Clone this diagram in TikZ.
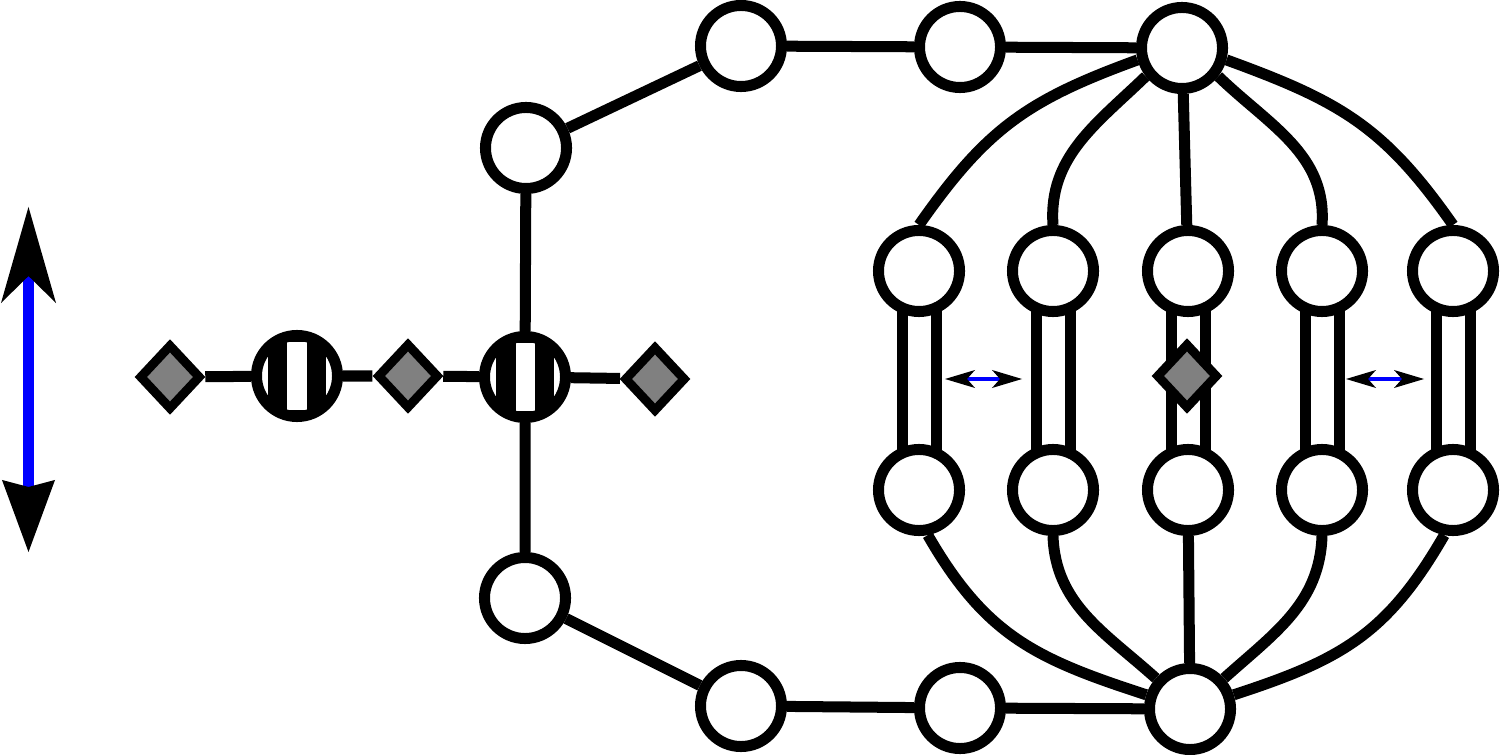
\documentclass[tikz,border=0pt]{standalone}
\usepackage{tikz}
\usetikzlibrary{arrows.meta,shapes,backgrounds}
\begin{document}
\begin{tikzpicture}[x=0.01cm,y=0.01cm]
                    \tikzstyle{every node}+=[inner sep=0pt]
                    \tikzstyle{vertex}=[circle, draw=black, fill=white, line width=0.11cm, minimum size=0.81cm]
                    \tikzstyle{striped}=[vertex, path picture={
                        \fill [black] ([xshift=-0.285cm,yshift=-0.5cm]path picture bounding box.center) rectangle ([xshift=0.285cm,yshift=0.5cm]path picture bounding box.center);
                        \fill [white] ([xshift=-0.095cm,yshift=-0.34cm]path picture bounding box.center) rectangle ([xshift=0.095cm,yshift=0.34cm]path picture bounding box.center);}]
                    \tikzstyle{port}=[diamond, draw=black, fill=gray, line width=0.09cm, minimum width=0.62cm, minimum height=0.66cm]
                    \tikzstyle{edge}=[black, line width=0.11cm]
                    \tikzstyle{rung}=[black, line width=0.11cm, double=white, double distance=0.23cm]
                    \tikzstyle{twoway}=[blue, line width=0.04cm, {Stealth[length=0.30cm,width=0.18cm,inset=0.08cm,line width=0pt,color=black]}-{Stealth[length=0.30cm,width=0.18cm,inset=0.08cm,line width=0pt,color=black]}]
                    \tikzstyle{bigarrow}=[blue, line width=0.11cm, {Stealth[length=0.96cm,width=0.55cm,inset=0.27cm,line width=0pt,color=black]}-{Stealth[length=0.72cm,width=0.53cm,inset=0.07cm,line width=0pt,color=black]}]
                    \useasboundingbox (0,0) rectangle (1500,-755);
                    % left chain
                    \node [port] (d1) at (170,-377) {};
                    \node [striped] (s1) at (297,-376) {};
                    \node [port] (d2) at (408,-376) {};
                    \node [striped] (s2) at (525,-377) {};
                    \node [port] (d3) at (655,-379) {};
                    \node [vertex] (c1) at (526,-148) {};
                    \node [vertex] (c2) at (525,-598) {};
                    % top and bottom rows
                    \node [vertex] (t1) at (741,-46) {};
                    \node [vertex] (t2) at (960,-47) {};
                    \node [vertex] (ht) at (1182,-48) {};
                    \node [vertex] (b1) at (741,-706) {};
                    \node [vertex] (b2) at (960,-708) {};
                    \node [vertex] (hb) at (1190,-709) {};
                    % columns
                    \node [vertex] (u1) at (919,-271) {};
                    \node [vertex] (u2) at (1053,-271) {};
                    \node [vertex] (u3) at (1188,-271) {};
                    \node [vertex] (u4) at (1322,-271) {};
                    \node [vertex] (u5) at (1453,-271) {};
                    \node [vertex] (w1) at (919,-490) {};
                    \node [vertex] (w2) at (1053,-490) {};
                    \node [vertex] (w3) at (1188,-490) {};
                    \node [vertex] (w4) at (1322,-490) {};
                    \node [vertex] (w5) at (1453,-490) {};
                    \begin{pgfonlayer}{background}
                    \draw [rung] (u1.center) -- (w1.center);
                    \draw [rung] (u2.center) -- (w2.center);
                    \draw [rung] (u3.center) -- (w3.center);
                    \draw [rung] (u4.center) -- (w4.center);
                    \draw [rung] (u5.center) -- (w5.center);
                    \end{pgfonlayer}
                    \node [port] (d4) at (1187,-376) {};
                    % straight edges
                    \draw [edge] (d1) -- (s1) -- (d2) -- (s2) -- (d3);
                    \draw [edge] (c1) -- (s2) -- (c2);
                    \draw [edge] (c1) -- (t1) -- (t2) -- (ht);
                    \draw [edge] (c2) -- (b1) -- (b2) -- (hb);
                    % fan from the top
                    \draw [edge] (ht.195) to [out=200,in=55,looseness=1.1] (u1.north);
                    \draw [edge] (ht.218) to [out=224,in=94] (u2.north);
                    \draw [edge] (ht) -- (u3);
                    \draw [edge] (ht.322) to [out=316,in=86] (u4.north);
                    \draw [edge] (ht.345) to [out=340,in=125,looseness=1.1] (u5.north);
                    % fan to the bottom
                    \draw [edge] (w1.281) to [out=300,in=162,looseness=1.1] (hb);
                    \draw [edge] (w2.south) to [out=272,in=138] (hb);
                    \draw [edge] (w3) -- (hb);
                    \draw [edge] (w4.south) to [out=268,in=42] (hb);
                    \draw [edge] (w5.259) to [out=240,in=18,looseness=1.1] (hb);
                    % arrows
                    \coordinate (p1) at (945,-379);
                    \coordinate (p2) at (1022,-379);
                    \coordinate (p3) at (1346,-379);
                    \coordinate (p4) at (1424,-379);
                    \draw [twoway] (p1) -- (p2);
                    \draw [twoway] (p3) -- (p4);
                    \coordinate (q1) at (28.5,-207);
                    \coordinate (q2) at (28.5,-552);
                    \draw [bigarrow] (q1) -- (q2);
                \end{tikzpicture}
\end{document}
